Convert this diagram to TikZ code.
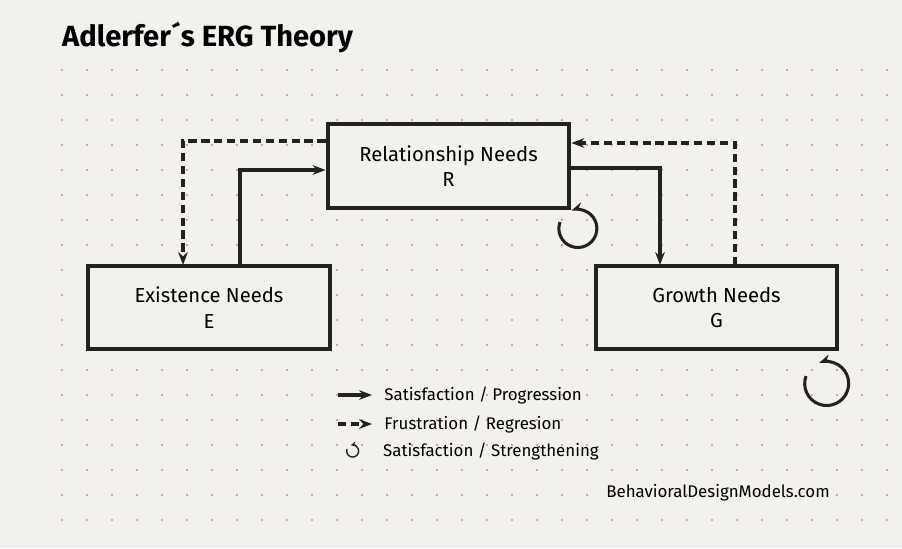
\documentclass[tikz,border=0pt]{standalone}
\usepackage{fontspec}
\setmainfont{Fira Sans}
\usetikzlibrary{arrows.meta,positioning}
\definecolor{paper}{HTML}{F3F1EE}
\definecolor{dotc}{HTML}{E08A4A}
\definecolor{ink}{HTML}{222222}
\tikzset{
  need/.style={draw=ink,line width=3.6pt,fill=paper,minimum width=7.25cm,minimum height=2.5cm,align=center,font=\LARGE},
  prog/.style={draw=ink,line width=2.6pt,-{Stealth[length=11pt]}},
  regr/.style={draw=ink,line width=2.6pt,dash pattern=on 7pt off 4pt,-{Stealth[length=11pt]}},
}
\begin{document}
\begin{tikzpicture}[x=0.03cm,y=-0.03cm]

    \fill[paper] (0,0) rectangle (902,548);
    \useasboundingbox (0,0) rectangle (902,548);

    % dotted grid
    \foreach \x in {62,87,...,890}
        \foreach \y in {70,95,...,530}
            \fill[dotc] (\x,\y) circle [radius=1pt];

    \node[anchor=west,font=\Huge\bfseries] (title) at (58,38) {Adlerfer´s ERG Theory};

    \node[need] (rel) at (448.5,166) {Relationship Needs\\R};
    \node[need] (ex) at (209,307.5) {Existence Needs\\E};
    \node[need] (gr) at (716.5,307.5) {Growth Needs\\G};

    \coordinate (exup) at (240,265);
    \coordinate (exdn) at (183,265);
    \coordinate (grup) at (735,265);
    \coordinate (grdn) at (660,265);

    \draw[prog] (exup) |- (rel.west |- 0,170);
    \draw[regr] (rel.west |- 0,141) -| (exdn);
    \draw[prog] (rel.east |- 0,168) -| (grdn);
    \draw[regr] (grup) |- (rel.east |- 0,143);

    % strengthening loops
    \draw[ink,line width=2.6pt,-{Stealth[length=10pt]}] (560,222) arc [start angle=200,end angle=-110,radius=19];
    \draw[ink,line width=2.6pt,-{Stealth[length=10pt]}] (806,376) arc [start angle=200,end angle=-110,radius=22];

    % legend
    \coordinate (l1) at (338,395);
    \coordinate (l2) at (338,424);
    \draw[prog] (l1) -- ++(34,0) node[right=6pt,font=\Large] (t1) {Satisfaction / Progression};
    \draw[regr] (l2) -- ++(34,0) node[right=6pt,font=\Large] (t2) {Frustration / Regresion};
    \draw[ink,line width=1.2pt,-{Stealth[length=5pt]}] (347,449) arc [start angle=200,end angle=-110,radius=6];
    \node[anchor=west,font=\Large] (t3) at (t2.west |- 0,451) {Satisfaction / Strengthening};

    \node[font=\Large] (site) at (718,493) {BehavioralDesignModels.com};
\end{tikzpicture}
\end{document}
